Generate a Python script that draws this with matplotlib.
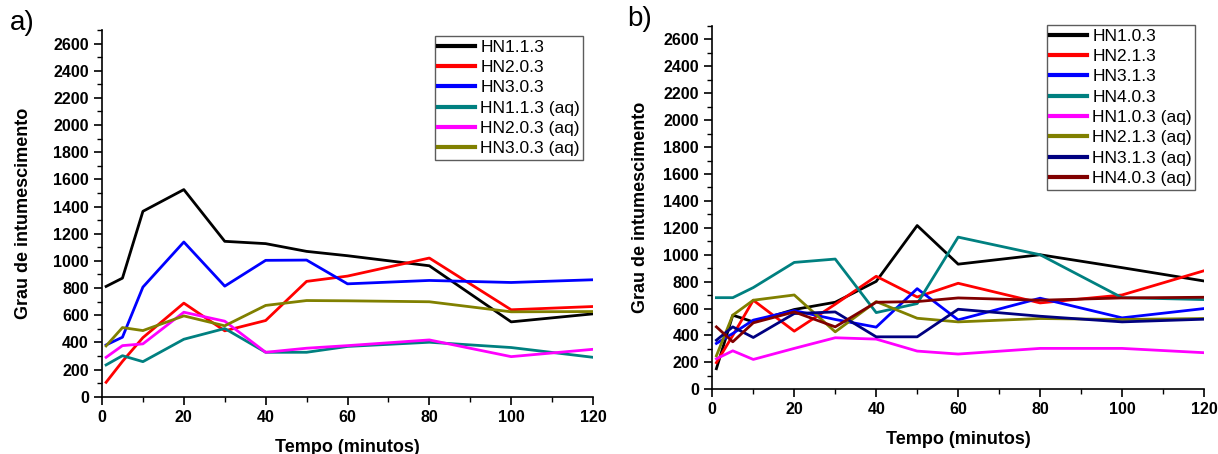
import matplotlib
matplotlib.use("Agg")
import matplotlib.pyplot as plt
from matplotlib.ticker import MultipleLocator

plt.rcParams['font.family'] = ['Liberation Sans', 'DejaVu Sans']

tempo = [1, 5, 10, 20, 30, 40, 50, 60, 80, 100, 120]

# Panel a)
labels_a = ["HN1.1.3", "HN2.0.3", "HN3.0.3", "HN1.1.3 (aq)", "HN2.0.3 (aq)", "HN3.0.3 (aq)"]
hn113 = [812, 873, 1365, 1525, 1144, 1127, 1070, 1038, 964, 551, 610]
hn203 = [106, 260, 435, 689, 485, 561, 849, 888, 1021, 640, 664]
hn303 = [381, 438, 807, 1139, 814, 1004, 1006, 831, 856, 841, 861]
hn113aq = [234, 302, 258, 423, 502, 327, 327, 370, 401, 362, 290]
hn203aq = [290, 376, 389, 622, 556, 327, 357, 376, 418, 295, 349]
hn303aq = [374, 509, 487, 595, 522, 672, 708, 706, 699, 625, 627]
colors_a = ["#000000", "#ff0000", "#0000ff", "#008080", "#ff00ff", "#808000"]
series_a = [hn113, hn203, hn303, hn113aq, hn203aq, hn303aq]

# Panel b)
labels_b = ["HN1.0.3", "HN2.1.3", "HN3.1.3", "HN4.0.3",
            "HN1.0.3 (aq)", "HN2.1.3 (aq)", "HN3.1.3 (aq)", "HN4.0.3 (aq)"]
hn103 = [153, 551, 501, 593, 647, 802, 1217, 930, 1000, 904, 805]
hn213 = [198, 400, 662, 432, 632, 840, 686, 788, 642, 701, 881]
hn313 = [341, 415, 514, 585, 519, 462, 748, 516, 677, 531, 600]
hn403 = [681, 681, 756, 943, 968, 570, 637, 1131, 1000, 681, 667]
hn103aq = [227, 286, 222, 304, 383, 373, 284, 262, 304, 304, 272]
hn213aq = [249, 551, 662, 701, 427, 652, 528, 501, 526, 519, 526]
hn313aq = [365, 464, 385, 563, 575, 390, 390, 595, 543, 501, 521]
hn403aq = [464, 353, 494, 575, 464, 647, 652, 679, 662, 679, 684]
colors_b = ["#000000", "#ff0000", "#0000ff", "#008080",
            "#ff00ff", "#808000", "#000080", "#800000"]
series_b = [hn103, hn213, hn313, hn403, hn103aq, hn213aq, hn313aq, hn403aq]

fig = plt.figure(figsize=(12.18, 4.54), dpi=100)
ax1 = fig.add_axes([102/1218, 1-396.7/454, (593-102)/1218, (396.7-30)/454])
ax2 = fig.add_axes([712.3/1218, 1-389.3/454, (1204-712.3)/1218, (389.3-26)/454])


def style(ax, ylpad):
    ax.set_xlim(0, 120)
    ax.set_ylim(0, 2700)
    ax.xaxis.set_major_locator(MultipleLocator(20))
    ax.xaxis.set_minor_locator(MultipleLocator(10))
    ax.yaxis.set_major_locator(MultipleLocator(200))
    ax.yaxis.set_minor_locator(MultipleLocator(100))
    ax.set_yticks(range(0, 2601, 200))
    for s in ['top', 'right']:
        ax.spines[s].set_visible(False)
    for s in ['left', 'bottom']:
        ax.spines[s].set_linewidth(1.2)
    ax.tick_params(which='major', direction='out', length=6, width=1.2, labelsize=11.5)
    ax.tick_params(which='minor', direction='out', length=3.5, width=1.0)
    for lab in ax.get_xticklabels() + ax.get_yticklabels():
        lab.set_fontweight('bold')
    ax.set_xlabel("Tempo (minutos)", fontsize=13, fontweight='bold', labelpad=10)
    ax.set_ylabel("Grau de intumescimento", fontsize=13, fontweight='bold', labelpad=ylpad)


for ys, c, lab in zip(series_a, colors_a, labels_a):
    ax1.plot(tempo, ys, color=c, lw=2.0, label=lab)
for ys, c, lab in zip(series_b, colors_b, labels_b):
    ax2.plot(tempo, ys, color=c, lw=2.0, label=lab)

style(ax1, 15)
style(ax2, 10)

leg_kw = dict(loc='upper left', fontsize=12.5, frameon=True, fancybox=False,
              handlelength=2.1, handletextpad=0.3, labelspacing=0.3,
              borderpad=0.2, borderaxespad=0)
l1 = ax1.legend(bbox_to_anchor=(435/1218, 1-36/454), bbox_transform=fig.transFigure, **leg_kw)
l2 = ax2.legend(bbox_to_anchor=(1047/1218, 1-25/454), bbox_transform=fig.transFigure, **leg_kw)
for l in (l1, l2):
    l.get_frame().set_edgecolor('#333333')
    l.get_frame().set_linewidth(1.0)
    for h in l.get_lines():
        h.set_linewidth(3)

fig.text(10/1218, 1-23/454, "a)", fontsize=20, va='center', ha='left')
fig.text(627/1218, 1-19/454, "b)", fontsize=20, va='center', ha='left')

fig.savefig("out.png", dpi=100)
